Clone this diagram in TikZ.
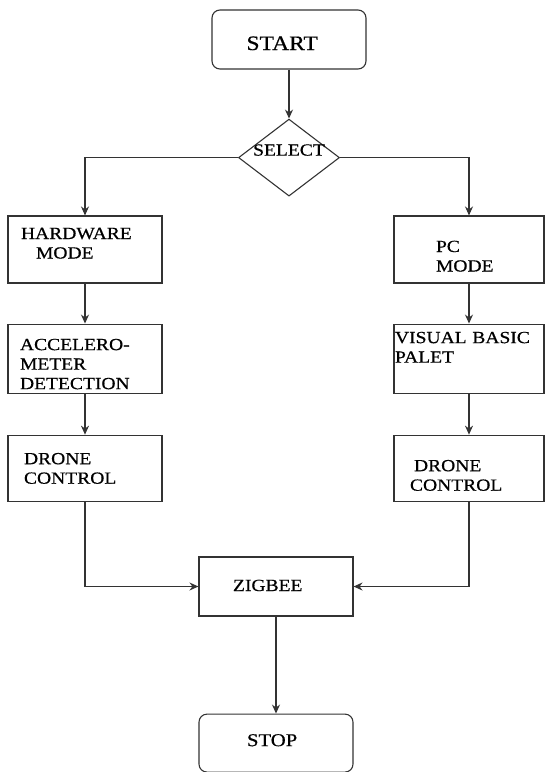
\documentclass[tikz,border=0pt]{standalone}
\usepackage{fontspec}
\setmainfont[FakeStretch=1.15,FakeBold=0.6]{Liberation Serif}
\usetikzlibrary{positioning,arrows.meta,shapes.geometric}
\definecolor{LineGray}{RGB}{51,51,51}
\tikzset{
  flow/.style={-{Stealth[length=9pt,width=8pt]},line width=1.1pt,draw=LineGray},
  box/.style={draw=LineGray,line width=1.1pt,minimum width=154pt,
    inner sep=0pt,align=left,font=\fontsize{17}{19.5}\selectfont},
  termbox/.style={box,rounded corners=8pt},
  choice/.style={diamond,draw=LineGray,line width=1.1pt,inner sep=0pt,shape aspect=1.3,
    minimum width=101pt,minimum height=77pt,font=\fontsize{17}{19.5}\selectfont}
}
\begin{document}
\begin{tikzpicture}[node distance=40pt]
  \useasboundingbox (0,0) rectangle (545pt,-772pt);
  \node[termbox,minimum height=59pt,text width=85pt,text height=21pt,text depth=0pt,
    font=\fontsize{20.5}{22}\selectfont] (start) at (289pt,-39.5pt) {START};
  \node[choice,below=49pt of start,text height=0pt,text depth=4pt] (select) {SELECT};

  \node[box,minimum height=67pt,text width=128pt,text height=0pt,text depth=21pt]
    (hw) at (85pt,-249.5pt) {HARDWARE\\\hspace*{15pt}MODE};
  \node[box,below=40pt of hw,minimum height=69pt,text width=130pt,text height=0pt,text depth=17pt]
    (acc) {ACCELERO-\\METER\\DETECTION};
  \node[box,below=41pt of acc,minimum height=66pt,text width=122pt,text height=0pt,text depth=8pt]
    (dcl) {DRONE\\CONTROL};

  \node[box,minimum width=150pt,minimum height=67pt,text width=66pt,text height=5pt,text depth=0pt]
    (pc) at (469pt,-249.5pt) {PC\\MODE};
  \node[box,below=40pt of pc,minimum width=150pt,minimum height=69pt,text width=148pt,
    text height=0pt,text depth=31pt] (vb) {VISUAL BASIC\\PALET};
  \node[box,below=41pt of vb,minimum width=150pt,minimum height=66pt,text width=118pt,
    text height=6pt,text depth=0pt] (dcr) {\hspace*{4pt}DRONE\\CONTROL};

  \node[box,minimum height=59pt,text width=86pt,text height=9pt,text depth=0pt]
    (zig) at (276pt,-586.5pt) {ZIGBEE};
  \node[termbox,below=97pt of zig,minimum height=58pt,text width=58pt,text height=6pt,
    text depth=0pt,font=\fontsize{18}{20}\selectfont] (stop) {STOP};

  \draw[flow] (start) -- (select);
  \draw[flow] (select.west) -| (hw.north);
  \draw[flow] (select.east) -| (pc.north);
  \draw[flow] (hw) -- (acc);
  \draw[flow] (acc) -- (dcl);
  \draw[flow] (pc) -- (vb);
  \draw[flow] (vb) -- (dcr);
  \draw[flow] (dcl.south) |- (zig.west);
  \draw[flow] (dcr.south) |- (zig.east);
  \draw[flow] (zig) -- (stop);
\end{tikzpicture}
\end{document}
